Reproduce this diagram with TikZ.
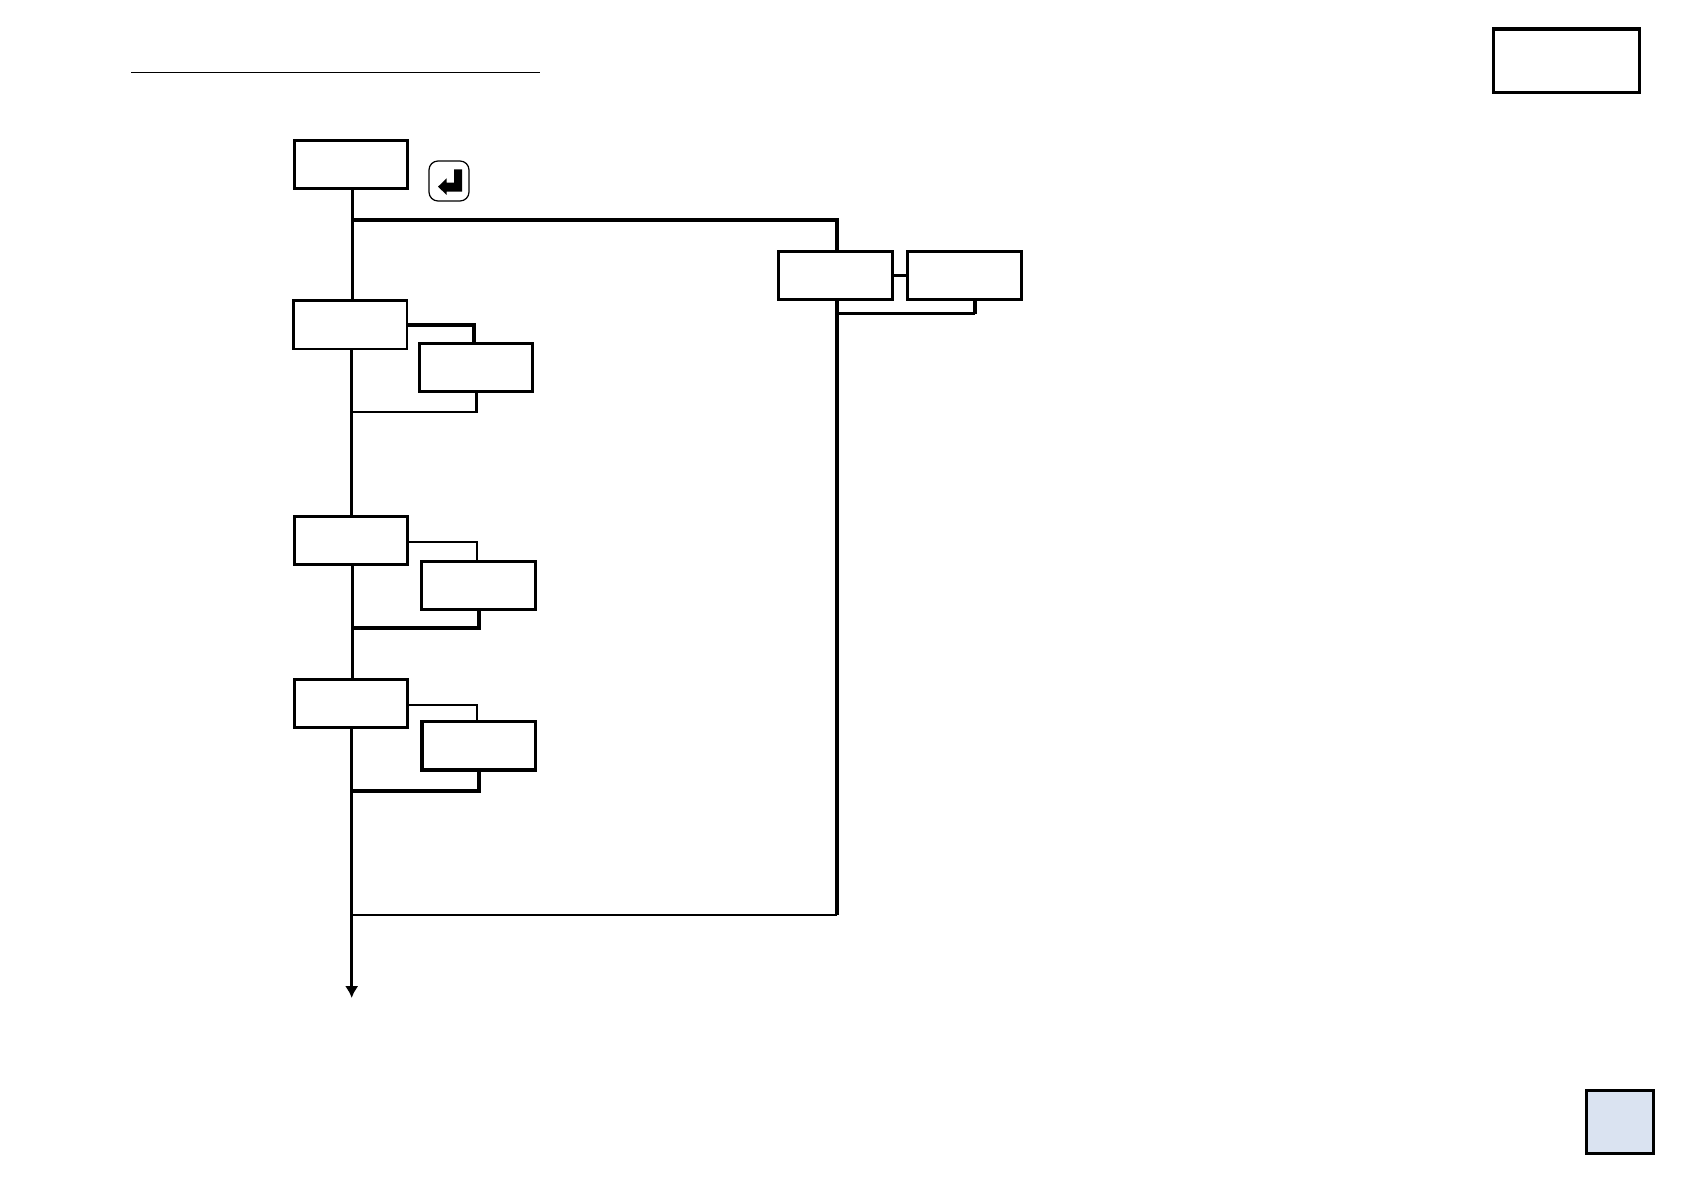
\documentclass[tikz,border=0pt]{standalone}
\usepackage{xcolor}
\usepackage{tikz}
\usetikzlibrary{calc}
\usetikzlibrary{arrows, arrows.meta}
\definecolor{tabblue}{HTML}{DAE3F1}

\begin{document}
\begin{tikzpicture}[x=0.2mm, y=-0.2mm, inner sep=0pt, outer sep=0pt,
  main/.style = {draw, line width=.6mm, minimum width=22.7mm, minimum height=9.7mm},
  thinline/.style = {line width=.55mm},
  thickline/.style = {line width=.75mm}]
  \useasboundingbox (0, 0) rectangle (1684, 1191);

  %page furniture
  \coordinate (rulea) at (131, 72.5);
  \coordinate (ruleb) at (540, 72.5);
  \draw [line width=.3mm] (rulea) -- (ruleb);
  \node [draw, line width=.7mm, minimum width=29.2mm, minimum height=12.7mm] (tag) at (1566.5, 61) {};
  \node [draw, line width=.7mm, fill=tabblue, minimum width=13.4mm, minimum height=12.6mm] (tab) at (1620, 1122) {};

  %left column
  \node [main] (top) at (351, 164.5) {};
  \node [main, line width=.5mm] (first) at (350, 324.5) {};
  \node [main] (second) at (351, 540.5) {};
  \node [main] (third) at (351, 703.5) {};
  %side boxes
  \node [main] (firsts) at (476, 367.5) {};
  \node [main] (seconds) at (478.5, 585.5) {};
  \node [main, line width=.7mm] (thirds) at (478.5, 745.5) {};
  %right pair
  \node [main] (righta) at (835.5, 275.5) {};
  \node [main] (rightb) at (964.5, 275.5) {};

  %return key
  \node [draw, line width=.25mm, rounded corners=1.8mm, minimum width=8mm, minimum height=8mm] (key) at (449, 181) {};
  \fill (key.center) ++(5, -11.7) -- ++(8, 0) -- ++(0, 22.4) -- ++(-15.3, 0) -- ++(0, 3.3)
    -- ++(-8.7, -8.3) -- ++(8.7, -8.4) -- ++(0, 4.4) -- ++(7.3, 0) -- cycle;

  %junctions on the trunk
  \coordinate (ja) at (352.7, 220);
  \coordinate (jb) at (351.7, 412);
  \coordinate (jc) at (352.7, 628);
  \coordinate (jd) at (351.7, 791);
  \coordinate (je) at (351.7, 915);
  \coordinate (end) at (351.7, 998);
  \coordinate (jr) at (837, 220);
  \coordinate (jg) at (837, 313.7);
  \coordinate (jf) at (837, 915);
  \coordinate (jh) at (975, 313.7);

  %linking trunk
  \draw [thinline] (top.south -| ja) -- (first.north -| ja);
  \draw [thinline] (first.south -| jb) -- (second.north -| jb);
  \draw [thinline] (second.south -| jc) -- (third.north -| jc);
  \draw [thinline, line width=.65mm, -{Latex[length=2.4mm, width=2.7mm]}] (third.south -| jd) -- (end);

  %first side box
  \draw [thickline] (first.east |- 0, 325) -| (firsts.north -| 474, 0);
  \draw [thinline] (firsts.south -| 476.7, 0) |- (jb);
  %second side box
  \draw [thinline] (second.east |- 0, 542) -| (seconds.north -| 477, 0);
  \draw [thickline] (seconds.south -| 479, 0) |- (jc);
  %third side box
  \draw [thinline] (third.east |- 0, 705) -| (thirds.north -| 477, 0);
  \draw [thickline] (thirds.south -| 479, 0) |- (jd);

  %right branch
  \draw [thickline] (ja) -- (jr) -- (righta.north -| jr);
  \draw [thickline] (righta) -- (rightb);
  \draw [thickline, shorten <=.3mm] (righta.south -| jr) -- (jf);
  \draw [thickline, shorten <=.3mm] (rightb.south -| jh) -- (jh);
  \draw [thinline] (jh) -- (jg);
  \draw [thinline] (jf) -- (je);
\end{tikzpicture}
\end{document}
